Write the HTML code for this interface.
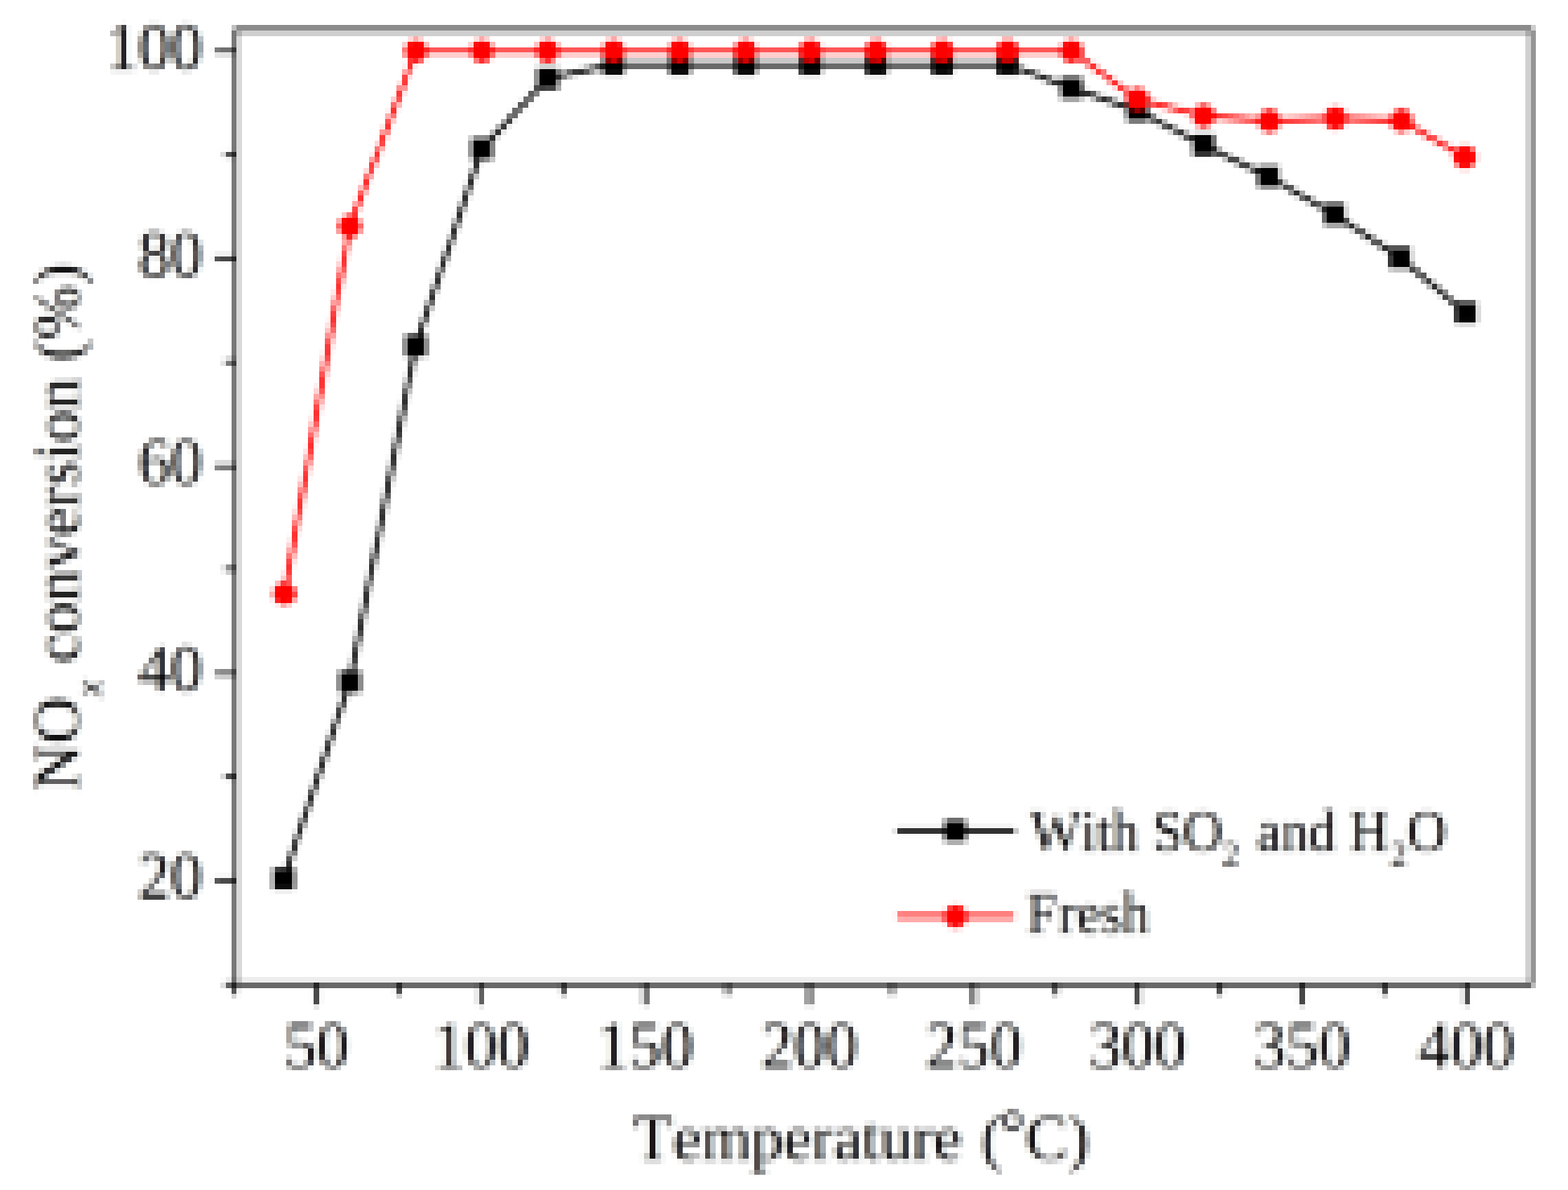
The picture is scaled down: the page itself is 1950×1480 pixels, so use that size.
<!DOCTYPE html>
<html lang="en"><head><meta charset="utf-8"><title>NOx conversion vs temperature</title>
<style>html,body{margin:0;padding:0;background:#fff}body{width:1950px;height:1480px;overflow:hidden}svg{display:block}text{font-family:"Liberation Serif","DejaVu Serif",serif;fill:#000;font-kerning:none;font-variant-ligatures:none;text-rendering:geometricPrecision}</style>
</head><body>
<svg width="1950" height="1480" viewBox="0 0 1950 1480">
<defs><filter id="px" filterUnits="userSpaceOnUse" primitiveUnits="userSpaceOnUse" x="0" y="0" width="1950" height="1480" color-interpolation-filters="sRGB">
<feFlood x="3" y="0" width="1" height="219" flood-color="#000" result="v0"/>
<feFlood x="10" y="0" width="1" height="219" flood-color="#000" result="v1"/>
<feFlood x="16" y="0" width="1" height="219" flood-color="#000" result="v2"/>
<feFlood x="23" y="0" width="1" height="219" flood-color="#000" result="v3"/>
<feFlood x="30" y="0" width="1" height="219" flood-color="#000" result="v4"/>
<feFlood x="37" y="0" width="1" height="219" flood-color="#000" result="v5"/>
<feFlood x="44" y="0" width="1" height="219" flood-color="#000" result="v6"/>
<feFlood x="51" y="0" width="1" height="219" flood-color="#000" result="v7"/>
<feFlood x="58" y="0" width="1" height="219" flood-color="#000" result="v8"/>
<feFlood x="64" y="0" width="1" height="219" flood-color="#000" result="v9"/>
<feFlood x="71" y="0" width="1" height="219" flood-color="#000" result="v10"/>
<feFlood x="78" y="0" width="1" height="219" flood-color="#000" result="v11"/>
<feFlood x="85" y="0" width="1" height="219" flood-color="#000" result="v12"/>
<feFlood x="92" y="0" width="1" height="219" flood-color="#000" result="v13"/>
<feFlood x="99" y="0" width="1" height="219" flood-color="#000" result="v14"/>
<feFlood x="105" y="0" width="1" height="219" flood-color="#000" result="v15"/>
<feFlood x="112" y="0" width="1" height="219" flood-color="#000" result="v16"/>
<feFlood x="119" y="0" width="1" height="219" flood-color="#000" result="v17"/>
<feFlood x="126" y="0" width="1" height="219" flood-color="#000" result="v18"/>
<feFlood x="133" y="0" width="1" height="219" flood-color="#000" result="v19"/>
<feFlood x="140" y="0" width="1" height="219" flood-color="#000" result="v20"/>
<feFlood x="147" y="0" width="1" height="219" flood-color="#000" result="v21"/>
<feFlood x="153" y="0" width="1" height="219" flood-color="#000" result="v22"/>
<feFlood x="160" y="0" width="1" height="219" flood-color="#000" result="v23"/>
<feFlood x="167" y="0" width="1" height="219" flood-color="#000" result="v24"/>
<feFlood x="174" y="0" width="1" height="219" flood-color="#000" result="v25"/>
<feFlood x="181" y="0" width="1" height="219" flood-color="#000" result="v26"/>
<feFlood x="188" y="0" width="1" height="219" flood-color="#000" result="v27"/>
<feFlood x="195" y="0" width="1" height="219" flood-color="#000" result="v28"/>
<feFlood x="201" y="0" width="1" height="219" flood-color="#000" result="v29"/>
<feFlood x="208" y="0" width="1" height="219" flood-color="#000" result="v30"/>
<feFlood x="215" y="0" width="1" height="219" flood-color="#000" result="v31"/>
<feFlood x="222" y="0" width="1" height="219" flood-color="#000" result="v32"/>
<feMerge x="0" y="0" width="226" height="219" result="vt"><feMergeNode in="v0"/><feMergeNode in="v1"/><feMergeNode in="v2"/><feMergeNode in="v3"/><feMergeNode in="v4"/><feMergeNode in="v5"/><feMergeNode in="v6"/><feMergeNode in="v7"/><feMergeNode in="v8"/><feMergeNode in="v9"/><feMergeNode in="v10"/><feMergeNode in="v11"/><feMergeNode in="v12"/><feMergeNode in="v13"/><feMergeNode in="v14"/><feMergeNode in="v15"/><feMergeNode in="v16"/><feMergeNode in="v17"/><feMergeNode in="v18"/><feMergeNode in="v19"/><feMergeNode in="v20"/><feMergeNode in="v21"/><feMergeNode in="v22"/><feMergeNode in="v23"/><feMergeNode in="v24"/><feMergeNode in="v25"/><feMergeNode in="v26"/><feMergeNode in="v27"/><feMergeNode in="v28"/><feMergeNode in="v29"/><feMergeNode in="v30"/><feMergeNode in="v31"/><feMergeNode in="v32"/></feMerge>
<feFlood x="0" y="0" width="226" height="1" flood-color="#000" result="h0"/>
<feFlood x="0" y="7" width="226" height="1" flood-color="#000" result="h1"/>
<feFlood x="0" y="14" width="226" height="1" flood-color="#000" result="h2"/>
<feFlood x="0" y="20" width="226" height="1" flood-color="#000" result="h3"/>
<feFlood x="0" y="27" width="226" height="1" flood-color="#000" result="h4"/>
<feFlood x="0" y="34" width="226" height="1" flood-color="#000" result="h5"/>
<feFlood x="0" y="41" width="226" height="1" flood-color="#000" result="h6"/>
<feFlood x="0" y="48" width="226" height="1" flood-color="#000" result="h7"/>
<feFlood x="0" y="55" width="226" height="1" flood-color="#000" result="h8"/>
<feFlood x="0" y="61" width="226" height="1" flood-color="#000" result="h9"/>
<feFlood x="0" y="68" width="226" height="1" flood-color="#000" result="h10"/>
<feFlood x="0" y="75" width="226" height="1" flood-color="#000" result="h11"/>
<feFlood x="0" y="82" width="226" height="1" flood-color="#000" result="h12"/>
<feFlood x="0" y="89" width="226" height="1" flood-color="#000" result="h13"/>
<feFlood x="0" y="96" width="226" height="1" flood-color="#000" result="h14"/>
<feFlood x="0" y="102" width="226" height="1" flood-color="#000" result="h15"/>
<feFlood x="0" y="109" width="226" height="1" flood-color="#000" result="h16"/>
<feFlood x="0" y="116" width="226" height="1" flood-color="#000" result="h17"/>
<feFlood x="0" y="123" width="226" height="1" flood-color="#000" result="h18"/>
<feFlood x="0" y="130" width="226" height="1" flood-color="#000" result="h19"/>
<feFlood x="0" y="137" width="226" height="1" flood-color="#000" result="h20"/>
<feFlood x="0" y="144" width="226" height="1" flood-color="#000" result="h21"/>
<feFlood x="0" y="150" width="226" height="1" flood-color="#000" result="h22"/>
<feFlood x="0" y="157" width="226" height="1" flood-color="#000" result="h23"/>
<feFlood x="0" y="164" width="226" height="1" flood-color="#000" result="h24"/>
<feFlood x="0" y="171" width="226" height="1" flood-color="#000" result="h25"/>
<feFlood x="0" y="178" width="226" height="1" flood-color="#000" result="h26"/>
<feFlood x="0" y="185" width="226" height="1" flood-color="#000" result="h27"/>
<feFlood x="0" y="191" width="226" height="1" flood-color="#000" result="h28"/>
<feFlood x="0" y="198" width="226" height="1" flood-color="#000" result="h29"/>
<feFlood x="0" y="205" width="226" height="1" flood-color="#000" result="h30"/>
<feFlood x="0" y="212" width="226" height="1" flood-color="#000" result="h31"/>
<feMerge x="0" y="0" width="226" height="219" result="ht"><feMergeNode in="h0"/><feMergeNode in="h1"/><feMergeNode in="h2"/><feMergeNode in="h3"/><feMergeNode in="h4"/><feMergeNode in="h5"/><feMergeNode in="h6"/><feMergeNode in="h7"/><feMergeNode in="h8"/><feMergeNode in="h9"/><feMergeNode in="h10"/><feMergeNode in="h11"/><feMergeNode in="h12"/><feMergeNode in="h13"/><feMergeNode in="h14"/><feMergeNode in="h15"/><feMergeNode in="h16"/><feMergeNode in="h17"/><feMergeNode in="h18"/><feMergeNode in="h19"/><feMergeNode in="h20"/><feMergeNode in="h21"/><feMergeNode in="h22"/><feMergeNode in="h23"/><feMergeNode in="h24"/><feMergeNode in="h25"/><feMergeNode in="h26"/><feMergeNode in="h27"/><feMergeNode in="h28"/><feMergeNode in="h29"/><feMergeNode in="h30"/><feMergeNode in="h31"/></feMerge>
<feComposite in="vt" in2="ht" operator="in" x="0" y="0" width="226" height="219" result="dt"/>
<feTile in="dt" result="dots"/>
<feGaussianBlur in="SourceGraphic" stdDeviation="2" result="box"/>
<feOffset in="box" dx="2" dy="0" result="oL"/>
<feOffset in="box" dx="-2" dy="0" result="oR"/>
<feColorMatrix in="oL" type="matrix" values="0.12 0 0 0 0  0 0 0 0 0  0 0 0 0 0  0 0 0 1 0" result="cL"/>
<feColorMatrix in="oR" type="matrix" values="0 0 0 0 0  0 0 0 0 0  0 0 0.12 0 0  0 0 0 1 0" result="cR"/>
<feColorMatrix in="box" type="matrix" values="0.88 0 0 0 0  0 1 0 0 0  0 0 0.88 0 0  0 0 0 1 0" result="cC"/>
<feComposite in="cL" in2="cC" operator="arithmetic" k1="0" k2="1" k3="1" k4="0" result="s1"/>
<feComposite in="s1" in2="cR" operator="arithmetic" k1="0" k2="1" k3="1" k4="0" result="rgb"/>
<feFlood x="14" y="300" width="126" height="720" flood-color="#000" result="m0"/>
<feFlood x="120" y="14" width="142" height="1126" flood-color="#000" result="m1"/>
<feFlood x="330" y="1262" width="1580" height="90" flood-color="#000" result="m2"/>
<feFlood x="700" y="1365" width="760" height="105" flood-color="#000" result="m3"/>
<feFlood x="1271" y="990" width="560" height="190" flood-color="#000" result="m4"/>
<feMerge result="tm"><feMergeNode in="m0"/><feMergeNode in="m1"/><feMergeNode in="m2"/><feMergeNode in="m3"/><feMergeNode in="m4"/></feMerge>
<feComposite in="rgb" in2="tm" operator="in" result="rgbT"/>
<feMerge result="mix"><feMergeNode in="box"/><feMergeNode in="rgbT"/></feMerge>
<feComposite in="mix" in2="dots" operator="in" result="smp"/>
<feMorphology in="smp" operator="dilate" radius="3" result="dil"/>
<feMerge><feMergeNode in="box"/><feMergeNode in="dil"/></feMerge>
</filter></defs>
<g filter="url(#px)">
<rect x="0" y="0" width="1950" height="1480" fill="#ffffff"/>
<g font-size="80.15" text-anchor="middle">
<text transform="translate(393.8 1328.0) scale(1 1.035)">50</text>
<text transform="translate(598.1 1328.0) scale(1 1.035)">100</text>
<text transform="translate(802.4 1328.0) scale(1 1.035)">150</text>
<text transform="translate(1006.7 1328.0) scale(1 1.035)">200</text>
<text transform="translate(1211.0 1328.0) scale(1 1.035)">250</text>
<text transform="translate(1415.2 1328.0) scale(1 1.035)">300</text>
<text transform="translate(1619.5 1328.0) scale(1 1.035)">350</text>
<text transform="translate(1823.8 1328.0) scale(1 1.035)">400</text>
</g>
<g font-size="80.15" text-anchor="end">
<text transform="translate(251.9 85.7) scale(1 1.035)">100</text>
<text transform="translate(251.9 343.6) scale(1 1.035)">80</text>
<text transform="translate(251.9 601.5) scale(1 1.035)">60</text>
<text transform="translate(251.9 859.4) scale(1 1.035)">40</text>
<text transform="translate(251.9 1117.2) scale(1 1.035)">20</text>
</g>
<text transform="translate(787.6 1441.6) scale(1 1)" font-size="80" dx="0 0 0 0 0 0 0 0 0 0 0 0 4 -4" dy="0 0 0 0 0 0 0 0 0 0 0 0 0 -6.5 6.5">Temperature (°C)</text>
<text transform="translate(97.7 983.7) rotate(-90) scale(1 1)" font-size="81">NO<tspan font-size="48.6" font-style="italic" dy="28">x</tspan><tspan dy="-28"> conversion (%)</tspan></text>
<text transform="translate(1280.5 1057.6) scale(1 1.07)" font-size="68">With SO<tspan font-size="40.8" dy="17.757">2</tspan><tspan dy="-17.757" dx="5.2"> and H</tspan><tspan font-size="40.8" dy="17.757" dx="2">2</tspan><tspan dy="-17.757" dx="0.2">O</tspan></text>
<text transform="translate(1278.5 1160.3) scale(1 1.07)" font-size="68" dx="-2 2">Fresh</text>
<g fill="#000">
<path d="M290.27 34.80H1907.05V1226.34H290.27ZM295.20 39.57V1221.65H1902.52V39.57Z" fill-rule="evenodd"/>
<rect x="279.30" y="1221.60" width="14.00" height="4.80"/>
<rect x="267.30" y="1092.65" width="26.00" height="4.80"/>
<rect x="279.30" y="963.70" width="14.00" height="4.80"/>
<rect x="267.30" y="835.75" width="26.00" height="4.80"/>
<rect x="279.30" y="705.80" width="14.00" height="4.80"/>
<rect x="267.30" y="577.85" width="26.00" height="4.80"/>
<rect x="279.30" y="447.90" width="14.00" height="4.80"/>
<rect x="267.30" y="318.95" width="26.00" height="4.80"/>
<rect x="279.30" y="190.00" width="14.00" height="4.80"/>
<rect x="267.30" y="61.05" width="26.00" height="4.80"/>
<rect x="289.26" y="1224.00" width="4.80" height="14.00"/>
<rect x="391.40" y="1224.00" width="4.80" height="26.00"/>
<rect x="493.55" y="1224.00" width="4.80" height="14.00"/>
<rect x="595.69" y="1224.00" width="4.80" height="26.00"/>
<rect x="697.84" y="1224.00" width="4.80" height="14.00"/>
<rect x="799.98" y="1224.00" width="4.80" height="26.00"/>
<rect x="902.12" y="1224.00" width="4.80" height="14.00"/>
<rect x="1004.27" y="1224.00" width="4.80" height="26.00"/>
<rect x="1106.41" y="1224.00" width="4.80" height="14.00"/>
<rect x="1208.56" y="1224.00" width="4.80" height="26.00"/>
<rect x="1310.70" y="1224.00" width="4.80" height="14.00"/>
<rect x="1412.85" y="1224.00" width="4.80" height="26.00"/>
<rect x="1514.99" y="1224.00" width="4.80" height="14.00"/>
<rect x="1617.14" y="1224.00" width="4.80" height="26.00"/>
<rect x="1719.28" y="1224.00" width="4.80" height="14.00"/>
<rect x="1821.43" y="1224.00" width="4.80" height="26.00"/>
</g>
<polyline fill="none" stroke="#000" stroke-width="5.8" stroke-linejoin="round" points="352.8,1093.0 435.0,848.0 517.0,429.9 599.3,185.0 681.0,97.8 763.0,80.1 845.0,80.1 927.0,80.1 1008.0,80.1 1090.0,80.1 1172.0,80.1 1253.0,80.1 1332.5,109.5 1414.6,137.5 1496.8,180.3 1577.6,219.8 1659.2,266.5 1741.0,320.6 1822.9,388.8"/>
<rect x="339.7" y="1079.8" width="26.3" height="26.3" fill="#000"/>
<rect x="421.9" y="834.9" width="26.3" height="26.3" fill="#000"/>
<rect x="503.9" y="416.8" width="26.3" height="26.3" fill="#000"/>
<rect x="586.1" y="171.8" width="26.3" height="26.3" fill="#000"/>
<rect x="667.9" y="84.6" width="26.3" height="26.3" fill="#000"/>
<rect x="749.9" y="66.9" width="26.3" height="26.3" fill="#000"/>
<rect x="831.9" y="66.9" width="26.3" height="26.3" fill="#000"/>
<rect x="913.9" y="66.9" width="26.3" height="26.3" fill="#000"/>
<rect x="994.9" y="66.9" width="26.3" height="26.3" fill="#000"/>
<rect x="1076.8" y="66.9" width="26.3" height="26.3" fill="#000"/>
<rect x="1158.8" y="66.9" width="26.3" height="26.3" fill="#000"/>
<rect x="1239.8" y="66.9" width="26.3" height="26.3" fill="#000"/>
<rect x="1319.3" y="96.3" width="26.3" height="26.3" fill="#000"/>
<rect x="1401.4" y="124.3" width="26.3" height="26.3" fill="#000"/>
<rect x="1483.6" y="167.2" width="26.3" height="26.3" fill="#000"/>
<rect x="1564.4" y="206.7" width="26.3" height="26.3" fill="#000"/>
<rect x="1646.0" y="253.3" width="26.3" height="26.3" fill="#000"/>
<rect x="1727.8" y="307.5" width="26.3" height="26.3" fill="#000"/>
<rect x="1809.8" y="375.7" width="26.3" height="26.3" fill="#000"/>
<polyline fill="none" stroke="#f00" stroke-width="5.8" stroke-linejoin="round" points="353.8,738.5 435.0,281.5 517.3,63.5 599.5,63.5 681.0,63.5 763.0,63.5 845.0,63.5 927.0,63.5 1008.0,63.5 1090.0,63.5 1172.0,63.5 1253.0,63.5 1332.6,63.5 1414.6,123.6 1497.0,144.0 1578.7,150.3 1660.8,147.0 1742.8,150.0 1821.8,195.4"/>
<circle cx="353.8" cy="738.5" r="14.3" fill="#ff0000"/>
<circle cx="435.0" cy="281.5" r="14.3" fill="#ff0000"/>
<circle cx="517.3" cy="63.5" r="14.3" fill="#ff0000"/>
<circle cx="599.5" cy="63.5" r="14.3" fill="#ff0000"/>
<circle cx="681.0" cy="63.5" r="14.3" fill="#ff0000"/>
<circle cx="763.0" cy="63.5" r="14.3" fill="#ff0000"/>
<circle cx="845.0" cy="63.5" r="14.3" fill="#ff0000"/>
<circle cx="927.0" cy="63.5" r="14.3" fill="#ff0000"/>
<circle cx="1008.0" cy="63.5" r="14.3" fill="#ff0000"/>
<circle cx="1090.0" cy="63.5" r="14.3" fill="#ff0000"/>
<circle cx="1172.0" cy="63.5" r="14.3" fill="#ff0000"/>
<circle cx="1253.0" cy="63.5" r="14.3" fill="#ff0000"/>
<circle cx="1332.6" cy="63.5" r="14.3" fill="#ff0000"/>
<circle cx="1414.6" cy="123.6" r="14.3" fill="#ff0000"/>
<circle cx="1497.0" cy="144.0" r="14.3" fill="#ff0000"/>
<circle cx="1578.7" cy="150.3" r="14.3" fill="#ff0000"/>
<circle cx="1660.8" cy="147.0" r="14.3" fill="#ff0000"/>
<circle cx="1742.8" cy="150.0" r="14.3" fill="#ff0000"/>
<circle cx="1821.8" cy="195.4" r="14.3" fill="#ff0000"/>
<line x1="1115.1" y1="1033.2" x2="1262.1" y2="1033.2" stroke="#000" stroke-width="5.8"/>
<rect x="1174.8" y="1020.1" width="26.3" height="26.3" fill="#000"/>
<line x1="1115.7" y1="1139.5" x2="1261.1" y2="1139.5" stroke="#f00" stroke-width="5.8"/>
<circle cx="1188.4" cy="1140" r="14.3" fill="#ff0000"/>
</g>
</svg>
</body></html>
